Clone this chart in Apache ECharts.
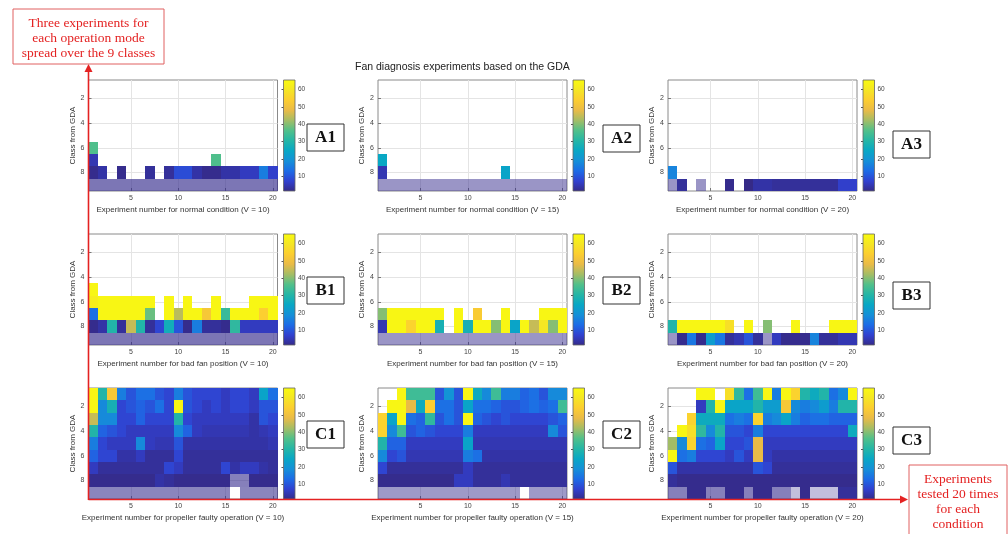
<!DOCTYPE html>
<html>
<head>
<meta charset="utf-8">
<script src="https://cdn.jsdelivr.net/npm/echarts@6/dist/echarts.min.js"></script>
<style>
html,body{margin:0;padding:0;background:#fff;}
#chart{width:1008px;height:534px;}
</style>
</head>
<body>
<div id="chart"></div>
<script>
// ---------------- DATA ----------------
const classTicks = [2, 4, 6, 8];
const expTicks = [5, 10, 15, 20];
const cbTicks = [10, 20, 30, 40, 50, 60];
const cbMin = 1.5, cbMax = 65.5;
const panelNames = ['A1', 'A2', 'A3', 'B1', 'B2', 'B3', 'C1', 'C2', 'C3'];
const speeds = ['10', '15', '20'];
const conditionNames = ['normal condition', 'bad fan position', 'propeller faulty operation'];
const yName = 'Class from GDA';
const titleText = 'Fan diagnosis experiments based on the GDA';
const noteLeft = ['Three experiments for', 'each operation mode', 'spread over the 9 classes'];
const noteRight = ['Experiments', 'tested 20 times', 'for each', 'condition'];

const _ = null;
const blank = [_,_,_,_,_,_,_,_,_,_,_,_,_,_,_,_,_,_,_,_];

// rows = class 1..9, columns = experiment 1..20 (null = empty cell)
const a1 = [blank, blank, blank, blank, blank,
  [36,_,_,_,_,_,_,_,_,_,_,_,_,_,_,_,_,_,_,_],
  [5,_,_,_,_,_,_,_,_,_,_,_,_,36,_,_,_,_,_,_],
  [2,4,_,2,_,_,3,_,3,9,9,4,2,2,4,4,6,6,16,7],
  [2,2,2,2,2,2,2,2,2,2,2,2,2,2,2,2,2,2,2,2]];
const a2 = [blank, blank, blank, blank, blank, blank,
  [25,_,_,_,_,_,_,_,_,_,_,_,_,_,_,_,_,_,_,_],
  [5,_,_,_,_,_,_,_,_,_,_,_,_,24,_,_,_,_,_,_],
  [2,2,2,2,2,2,2,2,2,2,2,2,2,2,2,2,2,2,2,2]];
const a3 = [blank, blank, blank, blank, blank, blank, blank,
  [17,_,_,_,_,_,_,_,_,_,_,_,_,_,_,_,_,_,_,_],
  [2,3,_,2,_,_,2,_,1,4,4,3,3,3,3,3,3,3,7,7]];
const b1 = [blank, blank, blank, blank,
  [64,_,_,_,_,_,_,_,_,_,_,_,_,_,_,_,_,_,_,_],
  [62,64,64,64,64,64,64,_,64,_,64,_,_,64,_,_,_,64,64,64],
  [14,64,64,64,64,64,38,_,64,44,64,64,52,64,33,64,64,64,54,64],
  [2,4,30,3,45,30,3,8,27,10,2,16,3,3,2,32,6,6,6,6],
  [2,2,2,2,2,2,2,2,2,2,2,2,2,2,2,2,2,2,2,2]];
const b2 = [blank, blank, blank, blank, blank, blank,
  [40,64,64,64,64,64,64,_,64,_,53,_,_,64,_,_,_,64,64,64],
  [5,64,64,55,64,64,28,_,64,28,64,64,40,64,24,64,45,60,40,64],
  [2,2,2,2,2,2,2,2,2,2,2,2,2,2,2,2,2,2,2,2]];
const b3 = [blank, blank, blank, blank, blank, blank, blank,
  [30,64,64,64,64,64,58,_,64,_,40,_,_,64,_,_,_,64,64,64],
  [2,2,15,2,22,15,3,5,10,3,2,6,2,2,2,17,3,3,5,5]];
const c1 = [
  [64,30,52,16,10,14,14,10,8,16,10,8,8,8,6,8,8,6,24,14],
  [64,18,28,8,10,12,10,14,8,64,10,8,6,8,6,8,8,6,10,10],
  [45,18,18,8,8,12,8,8,8,30,8,6,6,6,6,6,6,4,10,8],
  [30,12,10,8,6,6,6,6,6,18,12,6,5,5,5,5,5,4,5,6],
  [16,8,6,6,6,18,6,5,5,10,4,4,4,4,4,4,4,4,4,5],
  [12,8,8,4,4,6,3,3,3,8,3,3,3,3,3,3,3,3,3,3],
  [6,3,3,3,3,3,3,3,8,6,3,3,3,3,8,4,6,6,4,3],
  [2,2,2,2,2,2,2,4,3,2,2,2,2,2,2,2,2,2,2,2],
  [2,2,2,2,2,2,2,2,2,2,2,2,2,2,2,_,2,2,2,2]];
const c2 = [
  [_,_,64,34,34,34,10,20,10,64,26,18,34,16,16,12,14,10,18,18],
  [_,64,64,48,26,54,14,14,10,24,14,14,12,10,10,12,14,12,14,34],
  [55,24,64,14,12,32,10,14,10,64,12,10,8,10,8,8,8,8,10,12],
  [55,18,34,10,12,10,8,8,8,16,6,6,6,6,6,6,6,6,18,10],
  [30,12,12,6,6,6,6,6,6,24,5,5,5,5,5,5,5,5,5,5],
  [18,8,10,5,5,5,5,5,5,16,14,4,4,4,4,4,4,4,4,4],
  [8,3,3,3,3,3,3,3,3,6,3,3,3,3,3,3,3,3,3,3],
  [2,2,2,2,2,2,2,2,6,6,3,3,3,5,3,3,3,3,3,3],
  [2,2,2,2,2,2,2,2,2,2,2,2,2,2,2,_,2,2,2,2]];
const c3 = [
  [_,_,_,64,64,_,58,32,14,34,64,16,64,55,30,26,30,14,18,64],
  [_,_,_,6,30,64,24,24,24,30,22,22,52,18,16,18,22,16,30,30],
  [_,_,55,26,26,26,14,16,14,55,16,18,24,16,12,14,14,12,12,12],
  [_,64,58,32,18,30,10,10,8,16,8,8,8,8,8,8,8,8,8,26],
  [42,18,55,14,12,24,8,8,10,48,6,6,6,6,6,6,6,6,6,6],
  [64,14,16,8,8,8,6,10,6,48,6,4,4,4,4,4,4,4,4,4],
  [10,4,4,4,4,4,4,4,4,10,8,3,3,3,3,3,3,3,3,3],
  [3,2,2,2,2,2,2,2,2,2,2,2,2,2,2,2,2,2,2,2],
  [2,2,2,2,2,2,2,2,2,2,2,2,2,2,2,2,2,2,3,3]];

// faded (washed-out) cells: [class, fromExp, toExp, level]
const fadeA1 = [[9, 1, 20, 0.65]];
const fadeA2 = [[9, 1, 20, 0.5]];
const fadeA3 = [[9, 1, 1, 0.5], [9, 4, 4, 0.5]];
const fadeB1 = [[9, 1, 20, 0.65]];
const fadeB2 = [[9, 1, 20, 0.5]];
const fadeB3 = [[9, 1, 1, 0.5], [9, 11, 11, 0.5]];
const fadeC1 = [[9, 1, 20, 0.58], [8, 16, 17, 0.6]];
const fadeC2 = [[9, 1, 20, 0.48]];
const fadeC3 = [[9, 1, 2, 0.6], [9, 5, 6, 0.6], [9, 9, 9, 0.6], [9, 12, 13, 0.6], [9, 14, 14, 0.3], [9, 16, 18, 0.3]];

const matrices = [a1, a2, a3, b1, b2, b3, c1, c2, c3];
const fades = [fadeA1, fadeA2, fadeA3, fadeB1, fadeB2, fadeB3, fadeC1, fadeC2, fadeC3];

// ---------------- STYLE / LAYOUT ----------------
const parula = ['#352a87', '#3140cf', '#1d6be6', '#1590d8', '#08a7c5', '#25b6a6', '#52c08a', '#a5bd65', '#eabb47', '#fcce30', '#f5e624', '#f9fb0e'];
const colLeft = [88.5, 378, 668];
const rowTop = [80, 234, 388];
const plotW = 189, plotH = 111, cbGap = 6, cbW = 11.5;
const boxPos = [[307,124],[603,125],[893,131],[307,277],[603,277],[893,282],[307,421],[603,421],[893,427]];

function toCells(m, fd) {
  const out = [];
  for (let r = 0; r < m.length; r++) {
    for (let c = 0; c < m[r].length; c++) {
      const v = m[r][c];
      if (v === null) continue;
      let alpha = 1;
      fd.forEach(f => { if (f[0] === r + 1 && c + 1 >= f[1] && c + 1 <= f[2]) alpha = f[3]; });
      out.push([c + 1, r + 1, v, alpha]);
    }
  }
  return out;
}

function renderCell(params, api) {
  const x = api.value(0), y = api.value(1);
  const p = api.coord([x - 0.5, y - 0.5]);
  const q = api.coord([x + 0.5, y + 0.5]);
  const x0 = Math.round(Math.min(p[0], q[0])), x1 = Math.round(Math.max(p[0], q[0]));
  const y0 = Math.round(Math.min(p[1], q[1])), y1 = Math.round(Math.max(p[1], q[1]));
  return {
    type: 'rect',
    shape: { x: x0, y: y0, width: x1 - x0, height: y1 - y0 },
    style: { fill: api.visual('color'), opacity: api.value(3) }
  };
}

const gradStops = parula.map((c, i) => ({ offset: i / (parula.length - 1), color: c }));
function renderBar(params, api) {
  const p = api.coord([0, api.value(2)]);
  const q = api.coord([1, api.value(1)]);
  return {
    type: 'rect',
    shape: { x: p[0], y: p[1], width: q[0] - p[0], height: q[1] - p[1] },
    style: { fill: new echarts.graphic.LinearGradient(0, 1, 0, 0, gradStops), stroke: '#666', lineWidth: 0.8 }
  };
}

const grid = [], xAxis = [], yAxis = [], series = [];
const font = 'Liberation Sans, Arial, sans-serif';
for (let i = 0; i < 9; i++) {
  const row = Math.floor(i / 3), col = i % 3;
  grid.push({ left: colLeft[col], top: rowTop[row], width: plotW, height: plotH, show: true, backgroundColor: '#fff', borderColor: '#8a8a8a', borderWidth: 1 });
  xAxis.push({
    type: 'value', gridIndex: i, min: 0.5, max: 20.5,
    axisLine: { show: false },
    axisTick: { show: true, inside: true, length: 3, customValues: expTicks, lineStyle: { color: '#777' } },
    axisLabel: { customValues: expTicks, fontSize: 7, color: '#444', margin: 4, fontFamily: font },
    splitLine: { show: true, lineStyle: { color: '#e4e4e4', width: 1 } },
    name: 'Experiment number for ' + conditionNames[row] + ' (V = ' + speeds[col] + ')',
    nameLocation: 'middle', nameGap: 15,
    nameTextStyle: { fontSize: 8, color: '#333', fontFamily: font }
  });
  yAxis.push({
    type: 'value', gridIndex: i, min: 0.5, max: 9.5, inverse: true,
    axisLine: { show: false },
    axisTick: { show: true, inside: true, length: 3, customValues: classTicks, lineStyle: { color: '#777' } },
    axisLabel: { customValues: classTicks, fontSize: 7, color: '#444', margin: 4, fontFamily: font },
    splitLine: { show: true, lineStyle: { color: '#e4e4e4', width: 1 } },
    name: yName, nameLocation: 'middle', nameGap: 12, nameRotate: 90,
    nameTextStyle: { fontSize: 8, color: '#333', fontFamily: font }
  });
  series.push({
    type: 'custom', name: panelNames[i], xAxisIndex: i, yAxisIndex: i,
    renderItem: renderCell, data: toCells(matrices[i], fades[i]),
    encode: { x: 0, y: 1 }, silent: true
  });
}
// colorbars
for (let i = 0; i < 9; i++) {
  const row = Math.floor(i / 3), col = i % 3;
  const g = 9 + i;
  grid.push({ left: colLeft[col] + plotW + cbGap, top: rowTop[row], width: cbW, height: plotH });
  xAxis.push({ type: 'value', gridIndex: g, min: 0, max: 1, show: false });
  yAxis.push({
    type: 'value', gridIndex: g, min: cbMin, max: cbMax, position: 'right',
    axisLine: { show: false },
    axisTick: { show: true, inside: true, length: 2, customValues: cbTicks, lineStyle: { color: '#555' } },
    axisLabel: { customValues: cbTicks, fontSize: 6.5, color: '#444', margin: 3, fontFamily: font },
    splitLine: { show: false }
  });
  series.push({
    type: 'custom', xAxisIndex: g, yAxisIndex: g, renderItem: renderBar,
    data: [[0, cbMin, cbMax]], silent: true, z: 1
  });
}

// annotations
const graphic = [];
graphic.push({ type: 'text', left: 465 - 110, top: 62, style: { text: titleText, x: 0, y: 0, fontSize: 10.5, fill: '#222', fontFamily: font } });
panelNames.forEach((n, i) => {
  const [bx, by] = boxPos[i];
  graphic.push({ type: 'rect', shape: { x: bx, y: by, width: 37, height: 27 }, style: { fill: '#fff', stroke: '#333', lineWidth: 1 }, z: 10 });
  graphic.push({ type: 'text', style: { text: n, x: bx + 18.5, y: by + 14, align: 'center', verticalAlign: 'middle', fontSize: 17, fontWeight: 'bold', fontFamily: 'Liberation Serif, Times New Roman, serif', fill: '#111' }, z: 11 });
});
const red = '#e42222';
graphic.push({ type: 'line', shape: { x1: 88.5, y1: 500, x2: 88.5, y2: 70 }, style: { stroke: red, lineWidth: 1.6 }, z: 20 });
graphic.push({ type: 'polygon', shape: { points: [[84.5, 72], [92.5, 72], [88.5, 64]] }, style: { fill: red }, z: 20 });
graphic.push({ type: 'line', shape: { x1: 88.5, y1: 499.5, x2: 902, y2: 499.5 }, style: { stroke: red, lineWidth: 1.6 }, z: 20 });
graphic.push({ type: 'polygon', shape: { points: [[900, 495.5], [900, 503.5], [908, 499.5]] }, style: { fill: red }, z: 20 });
graphic.push({ type: 'rect', shape: { x: 13, y: 9, width: 151, height: 55 }, style: { fill: '#fff', stroke: '#e06060', lineWidth: 1 }, z: 20 });
noteLeft.forEach((t, k) => {
  graphic.push({ type: 'text', style: { text: t, x: 88.5, y: 23.5 + k * 15, align: 'center', verticalAlign: 'middle', fontSize: 13.5, fontFamily: 'Liberation Serif, Times New Roman, serif', fill: red }, z: 21 });
});
graphic.push({ type: 'rect', shape: { x: 909, y: 465, width: 98, height: 80 }, style: { fill: '#fff', stroke: '#e06060', lineWidth: 1 }, z: 20 });
noteRight.forEach((t, k) => {
  graphic.push({ type: 'text', style: { text: t, x: 958, y: 479.5 + k * 15, align: 'center', verticalAlign: 'middle', fontSize: 13.5, fontFamily: 'Liberation Serif, Times New Roman, serif', fill: red }, z: 21 });
});

const chart = echarts.init(document.getElementById('chart'), null, { renderer: 'canvas' });
chart.setOption({
  animation: false,
  backgroundColor: '#fff',
  grid, xAxis, yAxis, series, graphic,
  visualMap: {
    type: 'continuous', show: false, min: cbMin, max: cbMax, dimension: 2,
    seriesIndex: [0, 1, 2, 3, 4, 5, 6, 7, 8],
    inRange: { color: parula }
  }
});
</script>
</body>
</html>
